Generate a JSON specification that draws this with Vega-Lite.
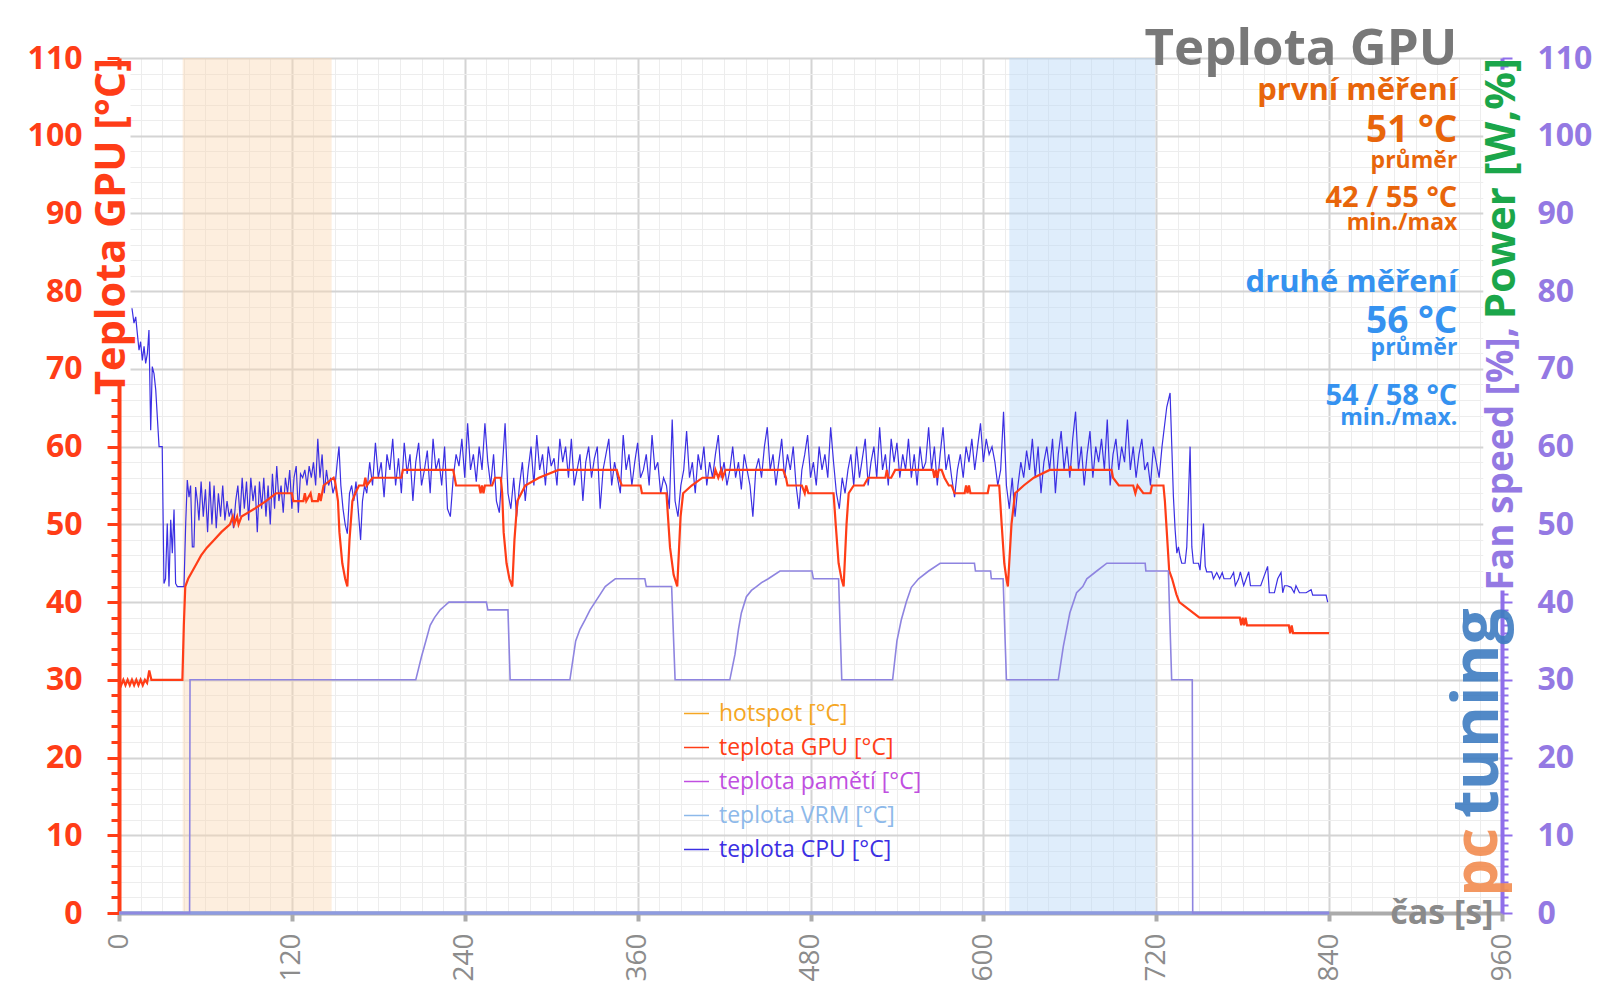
{
  "$schema": "https://vega.github.io/schema/vega-lite/v6.json",
  "width": 1383,
  "height": 855,
  "autosize": {"type": "none"},
  "padding": {"left": 119, "top": 58, "right": 98, "bottom": 95},
  "background": "white",
  "config": {
    "view": {"stroke": null},
    "font": "Open Sans",
    "axis": {"labelFont": "Open Sans", "titleFont": "Open Sans"},
    "legend": {"labelFont": "Open Sans"},
    "text": {"font": "Open Sans"}
  },
  "datasets": {
    "temps": [
      {"t":0,"v":30,"s":"g"},{"t":1.5,"v":29.3,"s":"g"},{"t":3,"v":30,"s":"g"},{"t":4.5,"v":29.3,"s":"g"},{"t":6,"v":30,"s":"g"},{"t":7.5,"v":29.3,"s":"g"},{"t":9,"v":30,"s":"g"},{"t":10.5,"v":29.3,"s":"g"},{"t":12,"v":30,"s":"g"},{"t":13.5,"v":29.3,"s":"g"},{"t":15,"v":30,"s":"g"},{"t":16.5,"v":29.3,"s":"g"},{"t":18,"v":30,"s":"g"},{"t":19.5,"v":29.6,"s":"g"},{"t":21,"v":31.2,"s":"g"},{"t":22.5,"v":30,"s":"g"},{"t":44,"v":30,"s":"g"},{"t":45,"v":37,"s":"g"},{"t":46,"v":42,"s":"g"},{"t":48,"v":43,"s":"g"},{"t":51,"v":44,"s":"g"},{"t":54,"v":45,"s":"g"},{"t":57,"v":46,"s":"g"},{"t":61,"v":47,"s":"g"},{"t":66,"v":48,"s":"g"},{"t":71,"v":49,"s":"g"},{"t":77,"v":50,"s":"g"},{"t":79,"v":51,"s":"g"},{"t":80,"v":50,"s":"g"},{"t":82,"v":51,"s":"g"},{"t":83,"v":50,"s":"g"},{"t":85,"v":51,"s":"g"},{"t":94,"v":52,"s":"g"},{"t":102,"v":53,"s":"g"},{"t":109,"v":54,"s":"g"},{"t":120,"v":54,"s":"g"},{"t":121,"v":53,"s":"g"},{"t":128,"v":53,"s":"g"},{"t":129,"v":54,"s":"g"},{"t":130,"v":53,"s":"g"},{"t":133,"v":54,"s":"g"},{"t":134,"v":53,"s":"g"},{"t":138,"v":53,"s":"g"},{"t":139,"v":54,"s":"g"},{"t":140,"v":53,"s":"g"},{"t":142,"v":55,"s":"g"},{"t":149,"v":56,"s":"g"},{"t":150,"v":55.5,"s":"g"},{"t":152,"v":53,"s":"g"},{"t":153,"v":49,"s":"g"},{"t":155,"v":45,"s":"g"},{"t":157,"v":43,"s":"g"},{"t":158.5,"v":42,"s":"g"},{"t":160,"v":48,"s":"g"},{"t":162,"v":53,"s":"g"},{"t":164,"v":54,"s":"g"},{"t":166.6,"v":55,"s":"g"},{"t":170,"v":55,"s":"g"},{"t":171,"v":56,"s":"g"},{"t":172,"v":55,"s":"g"},{"t":176,"v":56,"s":"g"},{"t":196,"v":56,"s":"g"},{"t":197,"v":57,"s":"g"},{"t":232,"v":57,"s":"g"},{"t":234,"v":55,"s":"g"},{"t":250,"v":55,"s":"g"},{"t":251,"v":54,"s":"g"},{"t":252,"v":55,"s":"g"},{"t":253,"v":54,"s":"g"},{"t":254,"v":55,"s":"g"},{"t":259,"v":55,"s":"g"},{"t":261,"v":56,"s":"g"},{"t":265,"v":56,"s":"g"},{"t":266,"v":54,"s":"g"},{"t":267,"v":49,"s":"g"},{"t":269,"v":45,"s":"g"},{"t":271,"v":43,"s":"g"},{"t":273,"v":42,"s":"g"},{"t":274.5,"v":48,"s":"g"},{"t":276.5,"v":53,"s":"g"},{"t":282,"v":55,"s":"g"},{"t":291.5,"v":56,"s":"g"},{"t":305,"v":57,"s":"g"},{"t":345.5,"v":57,"s":"g"},{"t":347,"v":56,"s":"g"},{"t":349,"v":55,"s":"g"},{"t":362,"v":55,"s":"g"},{"t":363,"v":54,"s":"g"},{"t":380,"v":54,"s":"g"},{"t":382.5,"v":47,"s":"g"},{"t":385,"v":43.5,"s":"g"},{"t":387.5,"v":42,"s":"g"},{"t":389.8,"v":51,"s":"g"},{"t":391.6,"v":54,"s":"g"},{"t":397.5,"v":55,"s":"g"},{"t":405,"v":56,"s":"g"},{"t":413,"v":56,"s":"g"},{"t":414,"v":57,"s":"g"},{"t":416,"v":56,"s":"g"},{"t":418,"v":57,"s":"g"},{"t":419,"v":56,"s":"g"},{"t":421,"v":57,"s":"g"},{"t":461,"v":57,"s":"g"},{"t":463,"v":56,"s":"g"},{"t":464,"v":55,"s":"g"},{"t":474,"v":55,"s":"g"},{"t":476,"v":54,"s":"g"},{"t":477,"v":55,"s":"g"},{"t":478.5,"v":54,"s":"g"},{"t":496,"v":54,"s":"g"},{"t":497.5,"v":50,"s":"g"},{"t":499.5,"v":45,"s":"g"},{"t":501.5,"v":43,"s":"g"},{"t":503,"v":42,"s":"g"},{"t":505,"v":50,"s":"g"},{"t":506.5,"v":54,"s":"g"},{"t":510,"v":55,"s":"g"},{"t":517,"v":55,"s":"g"},{"t":520,"v":56,"s":"g"},{"t":532,"v":56,"s":"g"},{"t":533,"v":57,"s":"g"},{"t":534,"v":56,"s":"g"},{"t":536,"v":56,"s":"g"},{"t":538.8,"v":57,"s":"g"},{"t":565,"v":57,"s":"g"},{"t":566,"v":56,"s":"g"},{"t":567,"v":57,"s":"g"},{"t":568,"v":56,"s":"g"},{"t":569,"v":57,"s":"g"},{"t":571,"v":57,"s":"g"},{"t":573,"v":56,"s":"g"},{"t":576,"v":55,"s":"g"},{"t":578,"v":55,"s":"g"},{"t":580,"v":54,"s":"g"},{"t":587,"v":54,"s":"g"},{"t":588,"v":55,"s":"g"},{"t":589,"v":54,"s":"g"},{"t":590,"v":55,"s":"g"},{"t":591,"v":54,"s":"g"},{"t":603,"v":54,"s":"g"},{"t":604,"v":55,"s":"g"},{"t":611,"v":55,"s":"g"},{"t":612.7,"v":50,"s":"g"},{"t":614.5,"v":45,"s":"g"},{"t":616,"v":43,"s":"g"},{"t":617,"v":42,"s":"g"},{"t":619.5,"v":50,"s":"g"},{"t":622,"v":54,"s":"g"},{"t":628,"v":55,"s":"g"},{"t":635,"v":56,"s":"g"},{"t":646,"v":57,"s":"g"},{"t":660,"v":57,"s":"g"},{"t":660.5,"v":57.5,"s":"g"},{"t":661,"v":57,"s":"g"},{"t":689,"v":57,"s":"g"},{"t":690,"v":56,"s":"g"},{"t":694,"v":55,"s":"g"},{"t":704,"v":55,"s":"g"},{"t":705.5,"v":54,"s":"g"},{"t":707,"v":55,"s":"g"},{"t":711,"v":54,"s":"g"},{"t":716,"v":54,"s":"g"},{"t":717,"v":55,"s":"g"},{"t":725,"v":55,"s":"g"},{"t":726,"v":53,"s":"g"},{"t":729,"v":44,"s":"g"},{"t":731,"v":43,"s":"g"},{"t":734,"v":41,"s":"g"},{"t":736,"v":40,"s":"g"},{"t":743,"v":39,"s":"g"},{"t":750,"v":38,"s":"g"},{"t":778,"v":38,"s":"g"},{"t":779,"v":37,"s":"g"},{"t":780,"v":38,"s":"g"},{"t":781,"v":37,"s":"g"},{"t":782,"v":38,"s":"g"},{"t":783,"v":37,"s":"g"},{"t":812,"v":37,"s":"g"},{"t":813,"v":36,"s":"g"},{"t":814,"v":37,"s":"g"},{"t":815,"v":36,"s":"g"},{"t":840,"v":36,"s":"g"},

      {"t":9,"v":77.8,"s":"c"},{"t":10.4,"v":75.9,"s":"c"},{"t":11.6,"v":76.7,"s":"c"},{"t":12.7,"v":74.6,"s":"c"},{"t":13.9,"v":72.4,"s":"c"},{"t":15,"v":73.5,"s":"c"},{"t":16.2,"v":71.1,"s":"c"},{"t":17.4,"v":72.9,"s":"c"},{"t":18.5,"v":70.7,"s":"c"},{"t":19.7,"v":72,"s":"c"},{"t":20.8,"v":75,"s":"c"},{"t":22,"v":62.1,"s":"c"},{"t":23.1,"v":70.3,"s":"c"},{"t":24.3,"v":69.4,"s":"c"},{"t":25.5,"v":67.3,"s":"c"},{"t":27.8,"v":60,"s":"c"},{"t":30,"v":60,"s":"c"},{"t":31.2,"v":42.4,"s":"c"},{"t":32.3,"v":43,"s":"c"},{"t":33.5,"v":50.1,"s":"c"},{"t":34.7,"v":42,"s":"c"},{"t":35.9,"v":50.6,"s":"c"},{"t":37,"v":46.3,"s":"c"},{"t":38.2,"v":51.9,"s":"c"},{"t":39.3,"v":42.4,"s":"c"},{"t":40.5,"v":42,"s":"c"},{"t":45.1,"v":42,"s":"c"},{"t":46.3,"v":50.1,"s":"c"},{"t":47.4,"v":55.7,"s":"c"},{"t":48.6,"v":53.5,"s":"c"},{"t":49.7,"v":55,"s":"c"},{"t":50.9,"v":47.1,"s":"c"},{"t":52,"v":47.1,"s":"c"},{"t":53.2,"v":54.8,"s":"c"},{"t":54.4,"v":53,"s":"c"},
      {"t":55.5,"v":50.5,"s":"c"},{"t":57,"v":55.5,"s":"c"},{"t":58.5,"v":51,"s":"c"},{"t":60,"v":54.5,"s":"c"},{"t":61.5,"v":49,"s":"c"},{"t":63,"v":55.5,"s":"c"},{"t":64.5,"v":50,"s":"c"},{"t":66,"v":55,"s":"c"},{"t":67.5,"v":49.5,"s":"c"},{"t":69,"v":54,"s":"c"},{"t":70.5,"v":51,"s":"c"},{"t":72,"v":55,"s":"c"},{"t":73.5,"v":50.5,"s":"c"},{"t":75,"v":53,"s":"c"},{"t":76.5,"v":51,"s":"c"},{"t":78,"v":52,"s":"c"},{"t":79.5,"v":49.5,"s":"c"},{"t":81,"v":53,"s":"c"},{"t":82.5,"v":55,"s":"c"},{"t":84,"v":51,"s":"c"},{"t":85.5,"v":56,"s":"c"},{"t":87,"v":52,"s":"c"},{"t":88.5,"v":55.5,"s":"c"},{"t":90,"v":50.5,"s":"c"},{"t":91.5,"v":56,"s":"c"},{"t":93,"v":53,"s":"c"},{"t":94.5,"v":55,"s":"c"},{"t":96,"v":49,"s":"c"},{"t":97.5,"v":55.5,"s":"c"},{"t":99,"v":52,"s":"c"},{"t":100.5,"v":56,"s":"c"},{"t":102,"v":51,"s":"c"},{"t":103.5,"v":55,"s":"c"},{"t":105,"v":50,"s":"c"},{"t":106.5,"v":56.5,"s":"c"},{"t":108,"v":52,"s":"c"},{"t":109.5,"v":57.5,"s":"c"},{"t":111,"v":53,"s":"c"},{"t":112.5,"v":55,"s":"c"},{"t":114,"v":51.5,"s":"c"},{"t":115.5,"v":56,"s":"c"},{"t":117,"v":54,"s":"c"},{"t":118.5,"v":57,"s":"c"},{"t":120,"v":52,"s":"c"},{"t":121.5,"v":56,"s":"c"},{"t":123,"v":57.5,"s":"c"},{"t":124.5,"v":51.5,"s":"c"},{"t":126,"v":56.5,"s":"c"},{"t":127.5,"v":56,"s":"c"},{"t":129,"v":57,"s":"c"},{"t":130.5,"v":55,"s":"c"},{"t":132,"v":57.5,"s":"c"},{"t":133.5,"v":56,"s":"c"},{"t":135,"v":58,"s":"c"},{"t":136.5,"v":55,"s":"c"},{"t":138,"v":61,"s":"c"},{"t":139.5,"v":56,"s":"c"},{"t":141,"v":59,"s":"c"},{"t":142.5,"v":54,"s":"c"},{"t":144,"v":57,"s":"c"},{"t":145.5,"v":55,"s":"c"},{"t":147,"v":56,"s":"c"},{"t":148.5,"v":54,"s":"c"},{"t":150,"v":55,"s":"c"},{"t":151.5,"v":58,"s":"c"},{"t":152.7,"v":60,"s":"c"},{"t":154,"v":55,"s":"c"},{"t":155.5,"v":52,"s":"c"},{"t":157,"v":50,"s":"c"},{"t":158.5,"v":48.8,"s":"c"},{"t":160,"v":54,"s":"c"},{"t":161.5,"v":55,"s":"c"},{"t":163,"v":53,"s":"c"},{"t":164.5,"v":55.5,"s":"c"},{"t":166,"v":52,"s":"c"},{"t":167.7,"v":48,"s":"c"},{"t":169,"v":53,"s":"c"},{"t":170.5,"v":55,"s":"c"},
      {"t":172,"v":54,"s":"c"},{"t":174,"v":58,"s":"c"},{"t":176,"v":55,"s":"c"},{"t":178,"v":60.5,"s":"c"},{"t":180,"v":56,"s":"c"},{"t":182,"v":58,"s":"c"},{"t":184,"v":53.5,"s":"c"},{"t":186,"v":59,"s":"c"},{"t":188,"v":57,"s":"c"},{"t":190,"v":61,"s":"c"},{"t":192,"v":55,"s":"c"},{"t":194,"v":58.5,"s":"c"},{"t":196,"v":54,"s":"c"},{"t":198,"v":60.5,"s":"c"},{"t":200,"v":56.5,"s":"c"},{"t":202,"v":59,"s":"c"},{"t":204,"v":53,"s":"c"},{"t":206,"v":58,"s":"c"},{"t":208,"v":60.5,"s":"c"},{"t":210,"v":55,"s":"c"},{"t":212,"v":57,"s":"c"},{"t":214,"v":59.5,"s":"c"},{"t":216,"v":54,"s":"c"},{"t":218,"v":61,"s":"c"},{"t":220,"v":57,"s":"c"},{"t":222,"v":58.5,"s":"c"},{"t":224,"v":55,"s":"c"},{"t":226,"v":60,"s":"c"},{"t":228,"v":52,"s":"c"},{"t":230,"v":51,"s":"c"},{"t":232,"v":56,"s":"c"},{"t":234,"v":59,"s":"c"},{"t":236,"v":57.5,"s":"c"},{"t":238,"v":61,"s":"c"},{"t":240,"v":56,"s":"c"},{"t":242,"v":63,"s":"c"},{"t":244,"v":57,"s":"c"},{"t":246,"v":59,"s":"c"},{"t":248,"v":55.5,"s":"c"},{"t":250,"v":60,"s":"c"},{"t":252,"v":57,"s":"c"},{"t":254,"v":63,"s":"c"},{"t":256,"v":58,"s":"c"},{"t":258,"v":55,"s":"c"},{"t":260,"v":59,"s":"c"},{"t":262,"v":53,"s":"c"},{"t":264,"v":51.5,"s":"c"},{"t":266,"v":57,"s":"c"},{"t":268,"v":63,"s":"c"},{"t":270,"v":54,"s":"c"},{"t":272,"v":52,"s":"c"},{"t":274,"v":56,"s":"c"},{"t":276,"v":51,"s":"c"},{"t":278,"v":55,"s":"c"},{"t":280,"v":58,"s":"c"},{"t":282,"v":53,"s":"c"},{"t":284,"v":57,"s":"c"},{"t":286,"v":60,"s":"c"},{"t":288,"v":55,"s":"c"},{"t":290,"v":61.5,"s":"c"},{"t":292,"v":57,"s":"c"},{"t":294,"v":59,"s":"c"},{"t":296,"v":55,"s":"c"},{"t":298,"v":60,"s":"c"},{"t":300,"v":57.5,"s":"c"},{"t":302,"v":58.5,"s":"c"},{"t":304,"v":55,"s":"c"},{"t":306,"v":61,"s":"c"},{"t":308,"v":58,"s":"c"},{"t":310,"v":60,"s":"c"},{"t":312,"v":56,"s":"c"},{"t":314,"v":61,"s":"c"},{"t":316,"v":55,"s":"c"},{"t":318,"v":57,"s":"c"},{"t":320,"v":59,"s":"c"},{"t":322,"v":53,"s":"c"},{"t":324,"v":58,"s":"c"},{"t":326,"v":60,"s":"c"},{"t":328,"v":56,"s":"c"},{"t":330,"v":58.5,"s":"c"},{"t":332,"v":60,"s":"c"},{"t":334,"v":52,"s":"c"},{"t":336,"v":57,"s":"c"},{"t":338,"v":59,"s":"c"},{"t":340,"v":61,"s":"c"},{"t":342,"v":55,"s":"c"},{"t":344,"v":58,"s":"c"},{"t":346,"v":56,"s":"c"},{"t":348,"v":54,"s":"c"},{"t":350,"v":61.5,"s":"c"},{"t":352,"v":57,"s":"c"},{"t":354,"v":59,"s":"c"},{"t":356,"v":55,"s":"c"},{"t":358,"v":58,"s":"c"},{"t":360,"v":60.5,"s":"c"},{"t":362,"v":56,"s":"c"},{"t":364,"v":57,"s":"c"},{"t":366,"v":59,"s":"c"},{"t":368,"v":55,"s":"c"},{"t":370,"v":61.5,"s":"c"},{"t":372,"v":57,"s":"c"},{"t":374,"v":58,"s":"c"},{"t":376,"v":54,"s":"c"},{"t":378,"v":56,"s":"c"},{"t":380,"v":55,"s":"c"},{"t":382,"v":52,"s":"c"},{"t":384,"v":63.5,"s":"c"},{"t":386,"v":53,"s":"c"},{"t":388,"v":51,"s":"c"},{"t":390,"v":55,"s":"c"},{"t":392,"v":57,"s":"c"},{"t":394,"v":62,"s":"c"},{"t":396,"v":56,"s":"c"},{"t":398,"v":58,"s":"c"},{"t":400,"v":54,"s":"c"},{"t":402,"v":59,"s":"c"},{"t":404,"v":57,"s":"c"},{"t":406,"v":60,"s":"c"},{"t":408,"v":55,"s":"c"},{"t":410,"v":58,"s":"c"},{"t":412,"v":56,"s":"c"},{"t":414,"v":59,"s":"c"},{"t":416,"v":61.5,"s":"c"},{"t":418,"v":56,"s":"c"},{"t":420,"v":58,"s":"c"},{"t":422,"v":55,"s":"c"},{"t":424,"v":57,"s":"c"},{"t":426,"v":60,"s":"c"},{"t":428,"v":56,"s":"c"},{"t":430,"v":58,"s":"c"},{"t":432,"v":54.5,"s":"c"},{"t":434,"v":59,"s":"c"},{"t":436,"v":57,"s":"c"},{"t":438,"v":55,"s":"c"},{"t":440,"v":51,"s":"c"},{"t":442,"v":57,"s":"c"},{"t":444,"v":58.5,"s":"c"},{"t":446,"v":56,"s":"c"},{"t":448,"v":60,"s":"c"},{"t":450,"v":62.5,"s":"c"},{"t":452,"v":57,"s":"c"},{"t":454,"v":59,"s":"c"},{"t":456,"v":55,"s":"c"},{"t":458,"v":58,"s":"c"},{"t":460,"v":61,"s":"c"},{"t":462,"v":56,"s":"c"},{"t":464,"v":59,"s":"c"},{"t":466,"v":57,"s":"c"},{"t":468,"v":60,"s":"c"},{"t":470,"v":55,"s":"c"},{"t":472,"v":52,"s":"c"},{"t":474,"v":57,"s":"c"},{"t":476,"v":59,"s":"c"},{"t":478,"v":61.5,"s":"c"},{"t":480,"v":56,"s":"c"},{"t":482,"v":58,"s":"c"},{"t":484,"v":55,"s":"c"},{"t":486,"v":60,"s":"c"},{"t":488,"v":57,"s":"c"},{"t":490,"v":59,"s":"c"},{"t":492,"v":56,"s":"c"},{"t":494,"v":62.5,"s":"c"},{"t":496,"v":58,"s":"c"},{"t":498,"v":54,"s":"c"},{"t":500,"v":52,"s":"c"},{"t":502,"v":56,"s":"c"},{"t":504,"v":54,"s":"c"},{"t":506,"v":57,"s":"c"},{"t":508,"v":59,"s":"c"},{"t":510,"v":55,"s":"c"},{"t":512,"v":60,"s":"c"},{"t":514,"v":56,"s":"c"},{"t":516,"v":58.5,"s":"c"},{"t":518,"v":61,"s":"c"},{"t":520,"v":55,"s":"c"},{"t":522,"v":58,"s":"c"},{"t":524,"v":60,"s":"c"},{"t":526,"v":56,"s":"c"},{"t":528,"v":62.5,"s":"c"},{"t":530,"v":57,"s":"c"},{"t":532,"v":59,"s":"c"},{"t":534,"v":55,"s":"c"},{"t":536,"v":61,"s":"c"},{"t":538,"v":58,"s":"c"},{"t":540,"v":60.5,"s":"c"},{"t":542,"v":56,"s":"c"},{"t":544,"v":59,"s":"c"},{"t":546,"v":57,"s":"c"},{"t":548,"v":61,"s":"c"},{"t":550,"v":56,"s":"c"},{"t":552,"v":59,"s":"c"},{"t":554,"v":55,"s":"c"},{"t":556,"v":60,"s":"c"},{"t":558,"v":57,"s":"c"},{"t":560,"v":58,"s":"c"},{"t":562,"v":62.5,"s":"c"},{"t":564,"v":57,"s":"c"},{"t":566,"v":60,"s":"c"},{"t":568,"v":55,"s":"c"},{"t":570,"v":59,"s":"c"},{"t":572,"v":62.5,"s":"c"},{"t":574,"v":57,"s":"c"},{"t":576,"v":59,"s":"c"},{"t":578,"v":56,"s":"c"},{"t":580,"v":53.5,"s":"c"},{"t":582,"v":57,"s":"c"},{"t":584,"v":59,"s":"c"},{"t":586,"v":56,"s":"c"},{"t":588,"v":60,"s":"c"},{"t":590,"v":58,"s":"c"},{"t":592,"v":61,"s":"c"},{"t":594,"v":57,"s":"c"},{"t":596,"v":60,"s":"c"},{"t":598,"v":63,"s":"c"},{"t":600,"v":58,"s":"c"},{"t":602,"v":61,"s":"c"},{"t":604,"v":59,"s":"c"},{"t":606,"v":60,"s":"c"},{"t":608,"v":58,"s":"c"},{"t":610,"v":55,"s":"c"},{"t":612,"v":57,"s":"c"},{"t":614,"v":64.5,"s":"c"},{"t":616,"v":55,"s":"c"},{"t":618,"v":52,"s":"c"},{"t":620,"v":56,"s":"c"},{"t":622,"v":51,"s":"c"},{"t":624,"v":55,"s":"c"},{"t":626,"v":58,"s":"c"},{"t":628,"v":56,"s":"c"},{"t":630,"v":59.5,"s":"c"},{"t":632,"v":57,"s":"c"},{"t":634,"v":61,"s":"c"},{"t":636,"v":56,"s":"c"},{"t":638,"v":60,"s":"c"},{"t":640,"v":54,"s":"c"},{"t":642,"v":58,"s":"c"},{"t":644,"v":60,"s":"c"},{"t":646,"v":57,"s":"c"},{"t":648,"v":61,"s":"c"},{"t":650,"v":54,"s":"c"},{"t":652,"v":59,"s":"c"},{"t":654,"v":62,"s":"c"},{"t":656,"v":57,"s":"c"},{"t":658,"v":60,"s":"c"},{"t":660,"v":56,"s":"c"},{"t":662,"v":61,"s":"c"},{"t":664,"v":64.5,"s":"c"},{"t":666,"v":57,"s":"c"},{"t":668,"v":60,"s":"c"},{"t":670,"v":55,"s":"c"},{"t":672,"v":59,"s":"c"},{"t":674,"v":62,"s":"c"},{"t":676,"v":56,"s":"c"},{"t":678,"v":60,"s":"c"},{"t":680,"v":58,"s":"c"},{"t":682,"v":61,"s":"c"},{"t":684,"v":57,"s":"c"},{"t":686,"v":63.5,"s":"c"},{"t":688,"v":55,"s":"c"},{"t":690,"v":59,"s":"c"},{"t":692,"v":61,"s":"c"},{"t":694,"v":57,"s":"c"},{"t":696,"v":60,"s":"c"},{"t":698,"v":58,"s":"c"},{"t":700,"v":63.5,"s":"c"},{"t":702,"v":57,"s":"c"},{"t":704,"v":60,"s":"c"},{"t":706,"v":56,"s":"c"},{"t":708,"v":59,"s":"c"},{"t":710,"v":61,"s":"c"},{"t":712,"v":57,"s":"c"},{"t":714,"v":58,"s":"c"},{"t":716,"v":55,"s":"c"},{"t":718,"v":60,"s":"c"},{"t":720,"v":58,"s":"c"},{"t":722,"v":56,"s":"c"},{"t":724,"v":60,"s":"c"},
      {"t":727.3,"v":65.1,"s":"c"},{"t":729.6,"v":66.9,"s":"c"},{"t":730.8,"v":60,"s":"c"},{"t":731.9,"v":53.6,"s":"c"},{"t":733.1,"v":49.3,"s":"c"},{"t":734.3,"v":46.3,"s":"c"},{"t":735.4,"v":47.1,"s":"c"},{"t":736.6,"v":45.8,"s":"c"},{"t":737.7,"v":45,"s":"c"},{"t":740,"v":45,"s":"c"},{"t":741.2,"v":47.1,"s":"c"},{"t":743.5,"v":60,"s":"c"},{"t":744.7,"v":47.1,"s":"c"},{"t":745.8,"v":45,"s":"c"},{"t":749.3,"v":45,"s":"c"},{"t":750.4,"v":44.1,"s":"c"},{"t":752.8,"v":50.1,"s":"c"},{"t":754,"v":44.6,"s":"c"},{"t":755,"v":43.9,"s":"c"},{"t":758.5,"v":43.9,"s":"c"},{"t":759.7,"v":43,"s":"c"},{"t":762,"v":43.8,"s":"c"},{"t":764,"v":43,"s":"c"},{"t":765.8,"v":43.8,"s":"c"},{"t":767,"v":43,"s":"c"},{"t":771.4,"v":43,"s":"c"},{"t":773.7,"v":43.8,"s":"c"},{"t":774.9,"v":42.1,"s":"c"},{"t":777.2,"v":43,"s":"c"},{"t":778.4,"v":43.9,"s":"c"},{"t":780.7,"v":42.1,"s":"c"},{"t":784.2,"v":43.9,"s":"c"},{"t":785.4,"v":42.1,"s":"c"},{"t":792.5,"v":42.1,"s":"c"},{"t":797.3,"v":44.6,"s":"c"},{"t":798.5,"v":41.2,"s":"c"},{"t":802,"v":41.2,"s":"c"},{"t":804.3,"v":43,"s":"c"},{"t":806.6,"v":43.8,"s":"c"},{"t":807.8,"v":41.2,"s":"c"},{"t":809,"v":42.1,"s":"c"},{"t":811,"v":42.1,"s":"c"},{"t":813.6,"v":41.9,"s":"c"},{"t":815.7,"v":41.2,"s":"c"},{"t":817,"v":42.1,"s":"c"},{"t":819.4,"v":41.2,"s":"c"},{"t":824,"v":41.2,"s":"c"},{"t":827.5,"v":41.6,"s":"c"},{"t":828.6,"v":40.9,"s":"c"},{"t":837.9,"v":40.9,"s":"c"},{"t":839,"v":40,"s":"c"}
    ],
    "fan": [
      {"t":0,"v":0},{"t":49,"v":0},{"t":49.3,"v":30},{"t":206,"v":30},{"t":210,"v":33},{"t":213,"v":35},{"t":216,"v":37},{"t":219,"v":38},{"t":223,"v":39},{"t":226,"v":39.5},{"t":229,"v":40},{"t":255,"v":40},{"t":256,"v":39},{"t":270,"v":39},{"t":271.5,"v":30},{"t":313,"v":30},{"t":317,"v":35},{"t":320,"v":36.5},{"t":323.5,"v":37.7},{"t":327,"v":39},{"t":330.5,"v":40},{"t":334,"v":41},{"t":337.5,"v":42},{"t":341,"v":42.5},{"t":344.5,"v":43},{"t":365,"v":43},{"t":366,"v":42},{"t":383.6,"v":42},{"t":386,"v":30},{"t":424,"v":30},{"t":427.6,"v":33.3},{"t":430,"v":36.5},{"t":432,"v":38.6},{"t":435.5,"v":40.7},{"t":439,"v":41.5},{"t":442.5,"v":42},{"t":446,"v":42.5},{"t":450.7,"v":43},{"t":458.8,"v":44},{"t":481,"v":44},{"t":482,"v":43},{"t":499.5,"v":43},{"t":501.7,"v":30},{"t":537,"v":30},{"t":540,"v":35},{"t":543,"v":37.7},{"t":546.5,"v":40},{"t":550,"v":41.9},{"t":555,"v":43},{"t":562,"v":44},{"t":570,"v":45},{"t":593.8,"v":45},{"t":594.5,"v":44},{"t":605,"v":44},{"t":605.5,"v":43},{"t":613.7,"v":43},{"t":616,"v":30},{"t":652,"v":30},{"t":655.5,"v":34.3},{"t":660,"v":38.6},{"t":664.7,"v":41.2},{"t":669,"v":42},{"t":671.8,"v":43},{"t":678.7,"v":44},{"t":685.7,"v":45},{"t":712.3,"v":45},{"t":712.8,"v":44},{"t":728.4,"v":44},{"t":730.7,"v":30},{"t":745,"v":30},{"t":745.3,"v":0},{"t":840,"v":0}
    ]
  },
  "layer": [
    {
      "layer": [
        {
          "data": {"values": [{}]},
          "mark": {"type": "rect", "color": "#FBD7B0", "opacity": 0.42},
          "encoding": {
            "x": {"datum": 44.2, "type": "quantitative"},
            "x2": {"datum": 147.6},
            "y": {"datum": 0, "type": "quantitative"},
            "y2": {"datum": 110}
          }
        },
        {
          "data": {"values": [{}]},
          "mark": {"type": "rect", "color": "#B9D6F7", "opacity": 0.45},
          "encoding": {
            "x": {"datum": 618, "type": "quantitative"},
            "x2": {"datum": 719.2},
            "y": {"datum": 0, "type": "quantitative"},
            "y2": {"datum": 110}
          }
        },
        {
          "data": {"values": [{}]},
          "mark": {"type": "rect", "color": "white", "opacity": 1},
          "encoding": {
            "x": {"datum": -17, "type": "quantitative"},
            "x2": {"datum": 8},
            "y": {"datum": 68.2, "type": "quantitative"},
            "y2": {"datum": 108.5}
          }
        },
        {
          "data": {"values": [{}]},
          "mark": {"type": "rect", "color": "white", "opacity": 1},
          "encoding": {
            "x": {"datum": 947, "type": "quantitative"},
            "x2": {"datum": 972},
            "y": {"datum": 41.5, "type": "quantitative"},
            "y2": {"datum": 108.5}
          }
        },
        {
          "data": {"name": "temps"},
          "transform": [{"filter": "datum.s === 'c'"}],
          "mark": {"type": "line", "strokeWidth": 1.2},
          "encoding": {
            "x": {"field": "t", "type": "quantitative"},
            "y": {"field": "v", "type": "quantitative"},
            "color": {"field": "s", "type": "nominal"}
          }
        },
        {
          "data": {"name": "temps"},
          "transform": [{"filter": "datum.s === 'g'"}],
          "mark": {"type": "line", "strokeWidth": 2.2},
          "encoding": {
            "x": {
              "field": "t", "type": "quantitative",
              "scale": {"domain": [0, 960], "nice": false, "zero": true},
              "axis": {
                "values": [0,15,30,45,60,75,90,105,120,135,150,165,180,195,210,225,240,255,270,285,300,315,330,345,360,375,390,405,420,435,450,465,480,495,510,525,540,555,570,585,600,615,630,645,660,675,690,705,720,735,750,765,780,795,810,825,840,855,870,885,900,915,930,945,960],
                "tickCount": 1000,
                "format": "d",
                "labelExpr": "datum.value % 120 === 0 ? datum.label : ''",
                "labelAngle": 270,
                "labelFontSize": 28,
                "labelColor": "#8C8C8C",
                "labelPadding": 12,
                "labelOverlap": false,
                "labelFlush": false,
                "labelBound": false,
                "domainColor": "#ABABAB",
                "domainWidth": 4,
                "tickColor": "#ABABAB",
                "tickWidth": 4,
                "tickSize": {"condition": {"test": "datum.value % 120 === 0", "value": 8}, "value": 0},
                "grid": true,
                "gridColor": {"condition": {"test": "datum.value % 120 === 0", "value": "#D4D4D4"}, "value": "#EDEDED"},
                "gridWidth": {"condition": {"test": "datum.value % 120 === 0", "value": 2}, "value": 1},
                "title": "čas [s]",
                "titleX": 1374,
                "titleY": 10,
                "titleAngle": 0,
                "titleAlign": "right",
                "titleBaseline": "alphabetic",
                "titleFontSize": 34,
                "titleFontWeight": "bold",
                "titleColor": "#8A8A8A"
              }
            },
            "y": {
              "field": "v", "type": "quantitative",
              "scale": {"domain": [0, 110], "nice": false},
              "axis": {
                "values": [0,2,4,6,8,10,12,14,16,18,20,22,24,26,28,30,32,34,36,38,40,42,44,46,48,50,52,54,56,58,60,62,64,66,68,70,72,74,76,78,80,82,84,86,88,90,92,94,96,98,100,102,104,106,108,110],
                "tickCount": 1000,
                "format": "d",
                "labelExpr": "datum.value % 10 === 0 ? datum.label : ''",
                "labelFontSize": 32,
                "labelFontWeight": "bold",
                "labelColor": "#FF3D17",
                "labelPadding": 25,
                "labelOverlap": false,
                "labelFlush": false,
                "labelBound": false,
                "domainColor": "#FF3D17",
                "domainWidth": 4,
                "tickColor": "#FF3D17",
                "tickWidth": 3,
                "tickSize": {"condition": {"test": "datum.value % 10 === 0", "value": 12}, "value": 8},
                "grid": true,
                "gridColor": {"condition": {"test": "datum.value % 10 === 0", "value": "#D4D4D4"}, "value": "#EDEDED"},
                "gridWidth": {"condition": {"test": "datum.value % 10 === 0", "value": 2}, "value": 1},
                "title": null
              }
            },
            "color": {
              "field": "s", "type": "nominal",
              "scale": {"domain": ["h", "g", "m", "r", "c"], "range": ["#F5A623", "#FF3D17", "#C04FE0", "#8DB9EA", "#3B2FE3"]},
              "legend": {
                "orient": "none",
                "legendX": 564,
                "legendY": 642,
                "title": null,
                "values": ["h", "g", "m", "r", "c"],
                "symbolType": "stroke",
                "symbolSize": 625,
                "symbolStrokeWidth": 1.5,
                "labelFontSize": 23,
                "labelOffset": 9,
                "rowPadding": 8,
                "labelLimit": 400,
                "labelExpr": "datum.label === 'h' ? 'hotspot [°C]' : datum.label === 'g' ? 'teplota GPU [°C]' : datum.label === 'm' ? 'teplota pamětí [°C]' : datum.label === 'r' ? 'teplota VRM [°C]' : 'teplota CPU [°C]'",
                "labelColor": {"expr": "scale('color', datum.value)"}
              }
            }
          }
        },
        {
          "data": {"values": [{"t": 0, "v": 0}, {"t": 840, "v": 0}]},
          "mark": {"type": "line", "color": "#8E9BE0", "strokeWidth": 3.5},
          "encoding": {
            "x": {"field": "t", "type": "quantitative"},
            "y": {"field": "v", "type": "quantitative"}
          }
        },
        {
          "data": {"values": [{}]},
          "mark": {"type": "text", "text": "Teplota GPU [°C]", "angle": 270, "align": "right", "baseline": "middle", "fontSize": 41.5, "fontWeight": "bold", "color": "#FF3D17"},
          "encoding": {"x": {"datum": -4.2, "type": "quantitative"}, "y": {"datum": 110, "type": "quantitative"}}
        },
        {
          "data": {"values": [{}]},
          "mark": {"type": "text", "text": "Fan speed [%],", "angle": 270, "align": "right", "baseline": "middle", "fontSize": 37, "fontWeight": "bold", "color": "#9479E3"},
          "encoding": {"x": {"datum": 960, "type": "quantitative"}, "y": {"datum": 75.4, "type": "quantitative"}}
        },
        {
          "data": {"values": [{}]},
          "mark": {"type": "text", "text": "Power [W,%]", "angle": 270, "align": "right", "baseline": "middle", "fontSize": 42, "fontWeight": "bold", "color": "#1BA64A"},
          "encoding": {"x": {"datum": 960, "type": "quantitative"}, "y": {"datum": 110, "type": "quantitative"}}
        },
        {
          "data": {"values": [{}]},
          "mark": {"type": "text", "text": "Teplota GPU", "align": "right", "baseline": "alphabetic", "fontSize": 51, "fontWeight": "bold", "color": "#787878"},
          "encoding": {"x": {"datum": 929, "type": "quantitative"}, "y": {"datum": 109.1, "type": "quantitative"}}
        },
        {
          "data": {"values": [{}]},
          "mark": {"type": "text", "text": "první měření", "align": "right", "baseline": "alphabetic", "fontSize": 31, "fontWeight": "bold", "color": "#E8650A"},
          "encoding": {"x": {"datum": 929, "type": "quantitative"}, "y": {"datum": 104.6, "type": "quantitative"}}
        },
        {
          "data": {"values": [{}]},
          "mark": {"type": "text", "text": "51 °C", "align": "right", "baseline": "alphabetic", "fontSize": 37, "fontWeight": "bold", "color": "#E8650A"},
          "encoding": {"x": {"datum": 929, "type": "quantitative"}, "y": {"datum": 99.2, "type": "quantitative"}}
        },
        {
          "data": {"values": [{}]},
          "mark": {"type": "text", "text": "průměr", "align": "right", "baseline": "alphabetic", "fontSize": 23, "fontWeight": "bold", "color": "#E8650A"},
          "encoding": {"x": {"datum": 929, "type": "quantitative"}, "y": {"datum": 95.8, "type": "quantitative"}}
        },
        {
          "data": {"values": [{}]},
          "mark": {"type": "text", "text": "42 / 55 °C", "align": "right", "baseline": "alphabetic", "fontSize": 29, "fontWeight": "bold", "color": "#E8650A"},
          "encoding": {"x": {"datum": 929, "type": "quantitative"}, "y": {"datum": 90.8, "type": "quantitative"}}
        },
        {
          "data": {"values": [{}]},
          "mark": {"type": "text", "text": "min./max", "align": "right", "baseline": "alphabetic", "fontSize": 23, "fontWeight": "bold", "color": "#E8650A"},
          "encoding": {"x": {"datum": 929, "type": "quantitative"}, "y": {"datum": 87.9, "type": "quantitative"}}
        },
        {
          "data": {"values": [{}]},
          "mark": {"type": "text", "text": "druhé měření", "align": "right", "baseline": "alphabetic", "fontSize": 31, "fontWeight": "bold", "color": "#3592F0"},
          "encoding": {"x": {"datum": 929, "type": "quantitative"}, "y": {"datum": 79.9, "type": "quantitative"}}
        },
        {
          "data": {"values": [{}]},
          "mark": {"type": "text", "text": "56 °C", "align": "right", "baseline": "alphabetic", "fontSize": 37, "fontWeight": "bold", "color": "#3592F0"},
          "encoding": {"x": {"datum": 929, "type": "quantitative"}, "y": {"datum": 74.6, "type": "quantitative"}}
        },
        {
          "data": {"values": [{}]},
          "mark": {"type": "text", "text": "průměr", "align": "right", "baseline": "alphabetic", "fontSize": 23, "fontWeight": "bold", "color": "#3592F0"},
          "encoding": {"x": {"datum": 929, "type": "quantitative"}, "y": {"datum": 71.8, "type": "quantitative"}}
        },
        {
          "data": {"values": [{}]},
          "mark": {"type": "text", "text": "54 / 58 °C", "align": "right", "baseline": "alphabetic", "fontSize": 29, "fontWeight": "bold", "color": "#3592F0"},
          "encoding": {"x": {"datum": 929, "type": "quantitative"}, "y": {"datum": 65.4, "type": "quantitative"}}
        },
        {
          "data": {"values": [{}]},
          "mark": {"type": "text", "text": "min./max.", "align": "right", "baseline": "alphabetic", "fontSize": 23, "fontWeight": "bold", "color": "#3592F0"},
          "encoding": {"x": {"datum": 929, "type": "quantitative"}, "y": {"datum": 62.8, "type": "quantitative"}}
        },
        {
          "data": {"values": [{}]},
          "mark": {"type": "text", "text": "pc", "angle": 270, "align": "left", "baseline": "middle", "fontSize": 60, "fontWeight": "bold", "color": "#F28C50", "opacity": 0.9},
          "encoding": {"x": {"datum": 944, "type": "quantitative"}, "y": {"datum": 2.1, "type": "quantitative"}}
        },
        {
          "data": {"values": [{}]},
          "mark": {"type": "text", "text": "tuning", "angle": 270, "align": "right", "baseline": "middle", "fontSize": 64, "fontWeight": "bold", "color": "#3F7DC1", "opacity": 0.9},
          "encoding": {"x": {"datum": 944, "type": "quantitative"}, "y": {"datum": 39.2, "type": "quantitative"}}
        }
      ]
    },
    {
      "data": {"name": "fan"},
      "mark": {"type": "line", "color": "#8E84E0", "strokeWidth": 1.6},
      "encoding": {
        "x": {"field": "t", "type": "quantitative"},
        "y": {
          "field": "v", "type": "quantitative",
          "scale": {"domain": [0, 110], "nice": false},
          "axis": {
            "orient": "right",
            "values": [0,1,2,3,4,5,6,7,8,9,10,11,12,13,14,15,16,17,18,19,20,21,22,23,24,25,26,27,28,29,30,31,32,33,34,35,36,37,38,39,40,41,42,43,44,45,46,47,48,49,50,51,52,53,54,55,56,57,58,59,60,61,62,63,64,65,66,67,68,69,70,71,72,73,74,75,76,77,78,79,80,81,82,83,84,85,86,87,88,89,90,91,92,93,94,95,96,97,98,99,100,101,102,103,104,105,106,107,108,109,110],
            "tickCount": 1000,
            "format": "d",
            "labelExpr": "datum.value % 10 === 0 ? datum.label : ''",
            "labelFontSize": 32,
            "labelFontWeight": "bold",
            "labelColor": "#9479E3",
            "labelPadding": 25,
            "labelOverlap": false,
            "labelFlush": false,
            "labelBound": false,
            "domainColor": "#8F6FEA",
            "domainWidth": 4,
            "tickColor": "#8F6FEA",
            "tickWidth": 2,
            "tickSize": {"condition": {"test": "datum.value % 10 === 0", "value": 10}, "value": 6},
            "grid": false,
            "title": null
          }
        }
      }
    }
  ],
  "resolve": {"scale": {"y": "independent"}}
}
